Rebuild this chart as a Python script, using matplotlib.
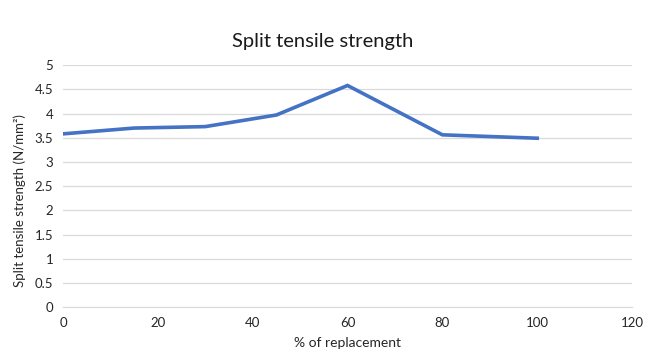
import matplotlib
matplotlib.use("Agg")
import matplotlib.pyplot as plt

plt.rcParams['font.family'] = ['Lato', 'DejaVu Sans']

replacement = [0, 15, 30, 45, 60, 80, 100]
strength = [3.58, 3.70, 3.73, 3.97, 4.58, 3.56, 3.49]
x_ticks = [0, 20, 40, 60, 80, 100, 120]
y_ticks = [0, 0.5, 1, 1.5, 2, 2.5, 3, 3.5, 4, 4.5, 5]

fig = plt.figure(figsize=(6.46, 3.6), dpi=100)
ax = fig.add_axes([0.0975, 0.147, 0.881, 0.672])

ax.plot(replacement, strength, color='#4472C4', linewidth=2.6, solid_joinstyle='miter')

ax.set_xlim(0, 120)
ax.set_ylim(0, 5)
ax.set_xticks(x_ticks)
ax.set_yticks(y_ticks)
ax.set_yticklabels([f"{v:g}" for v in y_ticks])
ax.yaxis.grid(True, color='#d9d9d9', linewidth=0.9)
ax.set_axisbelow(True)
for s in ['top', 'right', 'left']:
    ax.spines[s].set_visible(False)
ax.spines['bottom'].set_color('#d9d9d9')
ax.tick_params(axis='y', length=0, labelsize=9.5, colors='#262626', pad=7)
ax.tick_params(axis='x', length=0, labelsize=9.5, colors='#262626', pad=7)

ax.set_xlabel('% of replacement', fontsize=10, color='#262626', labelpad=6)
ax.set_ylabel('Split tensile strength (N/mm²)', fontsize=9.5, color='#262626')
ax.yaxis.set_label_coords(-0.065, 0.44)
fig.text(0.5, 0.886, 'Split tensile strength', ha='center', va='center',
         fontsize=14.5, color='#1a1a1a')

fig.savefig('out.png', dpi=100)
